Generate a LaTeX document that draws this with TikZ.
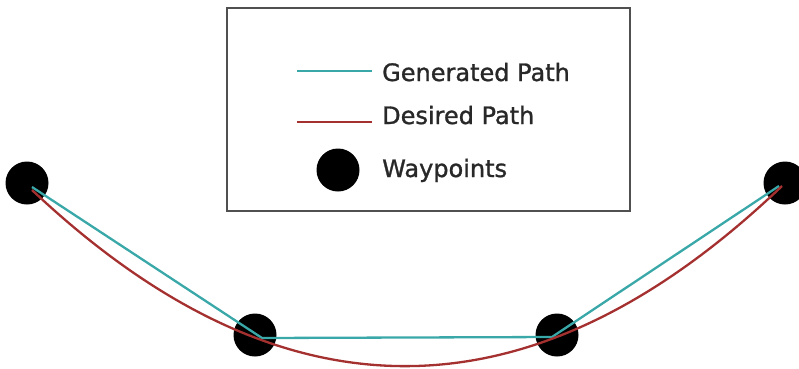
\documentclass[tikz,border=0pt]{standalone}
\usepackage{fontspec}
\setmainfont{DejaVu Sans}
\newfontfamily\legfont{DejaVu Sans}[UprightFeatures={FakeBold=1.2}]
\definecolor{gen}{RGB}{58,168,168}
\definecolor{des}{RGB}{165,48,48}
\definecolor{txt}{RGB}{40,40,40}
\definecolor{frame}{RGB}{80,80,80}
\begin{document}
\begin{tikzpicture}[x=1pt,y=-1pt,
  wp/.style={circle,fill=black,inner sep=0pt,minimum size=43pt},
  genline/.style={draw=gen,line width=2.3pt},
  desline/.style={draw=des,line width=2.3pt},
  legtext/.style={anchor=base west,inner sep=0pt,text=txt,font=\legfont\fontsize{24}{28}\selectfont}]
\useasboundingbox (0,0) rectangle (799,368);
% legend box
\node[draw=frame,line width=2pt,minimum width=403pt,minimum height=203pt,inner sep=0pt] (legend) at (428.5,109.5) {};
\coordinate (g1) at (297,71);
\coordinate (g2) at (372,71);
\draw[genline] (g1) -- (g2);
\node[legtext] (tg) at (382,81) {Generated Path};
\coordinate (d1) at (297,122);
\coordinate (d2) at (372,122);
\draw[desline] (d1) -- (d2);
\node[legtext] (td) at (382,124) {Desired Path};
\node[wp] (lw) at (338,170) {};
\node[legtext] (tw) at (382,177) {Waypoints};
% waypoints
\node[wp] (w1) at (27,183) {};
\node[wp] (w2) at (255,335) {};
\node[wp] (w3) at (557,335) {};
\node[wp] (w4) at (785,183) {};
% generated path
\coordinate (p1) at (32,187);
\coordinate (p2) at (262,338);
\coordinate (p3) at (552,337);
\coordinate (p4) at (779,186);
\draw[genline,line join=round] (p1) -- (p2) -- (p3) -- (p4);
% desired path
\coordinate (q1) at (32,190);
\coordinate (q2) at (782,186);
\draw[desline] (q1) .. controls (282,426) and (532,425) .. (q2);
\end{tikzpicture}
\end{document}
